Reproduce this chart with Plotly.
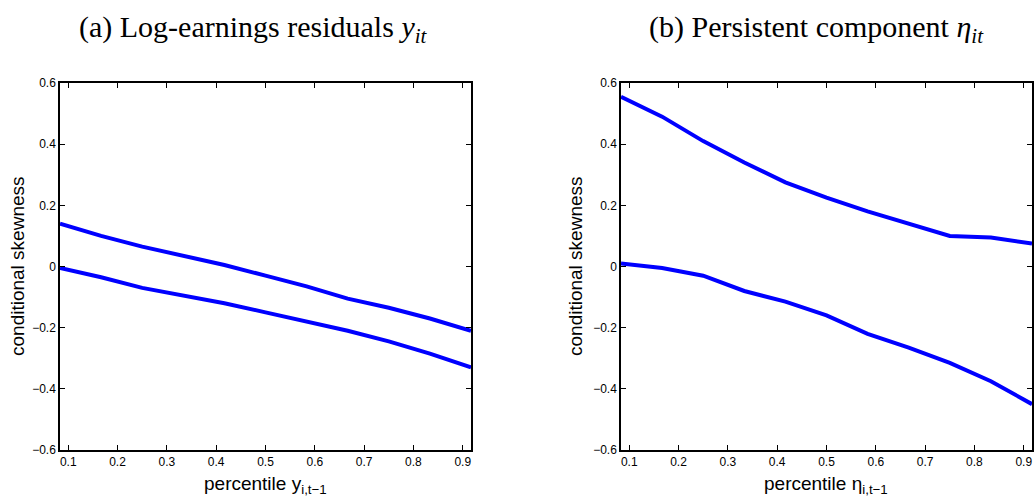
import plotly.graph_objects as go

# Data (percentile grid k/12, k=1..11)
pct = [1/12, 2/12, 3/12, 4/12, 5/12, 6/12, 7/12, 8/12, 9/12, 10/12, 11/12]

y_upper = [0.14, 0.10, 0.065, 0.035, 0.005, -0.03, -0.065, -0.105, -0.135, -0.17, -0.21]
y_lower = [-0.005, -0.035, -0.07, -0.095, -0.12, -0.15, -0.18, -0.21, -0.245, -0.285, -0.33]

eta_upper = [0.555, 0.49, 0.41, 0.34, 0.275, 0.225, 0.18, 0.14, 0.10, 0.095, 0.075]
eta_lower = [0.01, -0.005, -0.03, -0.08, -0.115, -0.16, -0.22, -0.265, -0.315, -0.375, -0.45]

x_ticks = [0.1, 0.2, 0.3, 0.4, 0.5, 0.6, 0.7, 0.8, 0.9]
y_ticks = [-0.6, -0.4, -0.2, 0, 0.2, 0.4, 0.6]
y_tick_text = ["\u22120.6", "\u22120.4", "\u22120.2", "0", "0.2", "0.4", "0.6"]

W, H = 1034, 499
BLUE = "#0000FF"
SANS = "Arial, Liberation Sans, Helvetica, sans-serif"
SERIF = "Liberation Serif, Times New Roman, serif"

fig = go.Figure()
for xa, ya, series in [("x", "y", [y_upper, y_lower]), ("x2", "y2", [eta_upper, eta_lower])]:
    for s in series:
        fig.add_trace(go.Scatter(x=pct, y=s, mode="lines", xaxis=xa, yaxis=ya,
                                 line=dict(color=BLUE, width=4), showlegend=False))

def px_x(p):
    return p / W

def px_y(p):
    return (H - p) / H

ax_common = dict(showline=True, linecolor="black", linewidth=1.5, mirror="ticks",
                 ticks="inside", ticklen=5, tickwidth=1, tickcolor="black",
                 showgrid=False, zeroline=False, automargin=False,
                 tickfont=dict(family=SANS, size=12, color="black"))

ydom = [px_y(450), px_y(83)]
fig.update_layout(
    width=W, height=H,
    margin=dict(l=0, r=0, t=0, b=0, autoexpand=False),
    paper_bgcolor="white", plot_bgcolor="white",
    xaxis=dict(domain=[px_x(60), px_x(471)], range=[1/12, 11/12], tickvals=x_ticks,
               ticktext=[f"{v:.1f}" for v in x_ticks], anchor="y", **ax_common),
    yaxis=dict(domain=ydom, range=[-0.6, 0.6], tickvals=y_ticks,
               ticktext=y_tick_text, anchor="x", **ax_common),
    xaxis2=dict(domain=[px_x(621), px_x(1032)], range=[1/12, 11/12], tickvals=x_ticks,
                ticktext=[f"{v:.1f}" for v in x_ticks], anchor="y2", **ax_common),
    yaxis2=dict(domain=ydom, range=[-0.6, 0.6], tickvals=y_ticks,
                ticktext=y_tick_text, anchor="x2", **ax_common),
)

titles = [
    ("(a) Log-earnings residuals <i>y</i><sub><i>it</i></sub>", 254),
    ("(b) Persistent component <i>\u03b7</i><sub><i>it</i></sub>", 816),
]
for txt, cx in titles:
    fig.add_annotation(text=txt, x=px_x(cx), y=px_y(29), xref="paper", yref="paper",
                       showarrow=False, xanchor="center", yanchor="middle",
                       font=dict(family=SERIF, size=30, color="black"))

for cx, txt in [(265, "percentile y<sub>i,t\u22121</sub>"), (826, "percentile \u03b7<sub>i,t\u22121</sub>")]:
    fig.add_annotation(text=txt, x=px_x(cx), y=0, xref="paper", yref="paper",
                       showarrow=False, xanchor="center", yanchor="bottom",
                       font=dict(family=SANS, size=19, color="black"))

for cx in [17, 575]:
    fig.add_annotation(text="conditional skewness", x=px_x(cx), y=px_y(266), xref="paper", yref="paper",
                       showarrow=False, xanchor="center", yanchor="middle", textangle=-90,
                       font=dict(family=SANS, size=19, color="black"))

fig.write_html(
    "out.html",
    config={"displayModeBar": False},
    post_script=("document.documentElement.style.margin='0';"
                 "document.body.style.margin='0';"
                 "document.documentElement.style.overflow='hidden';"
                 "document.body.style.overflow='hidden';"),
)
